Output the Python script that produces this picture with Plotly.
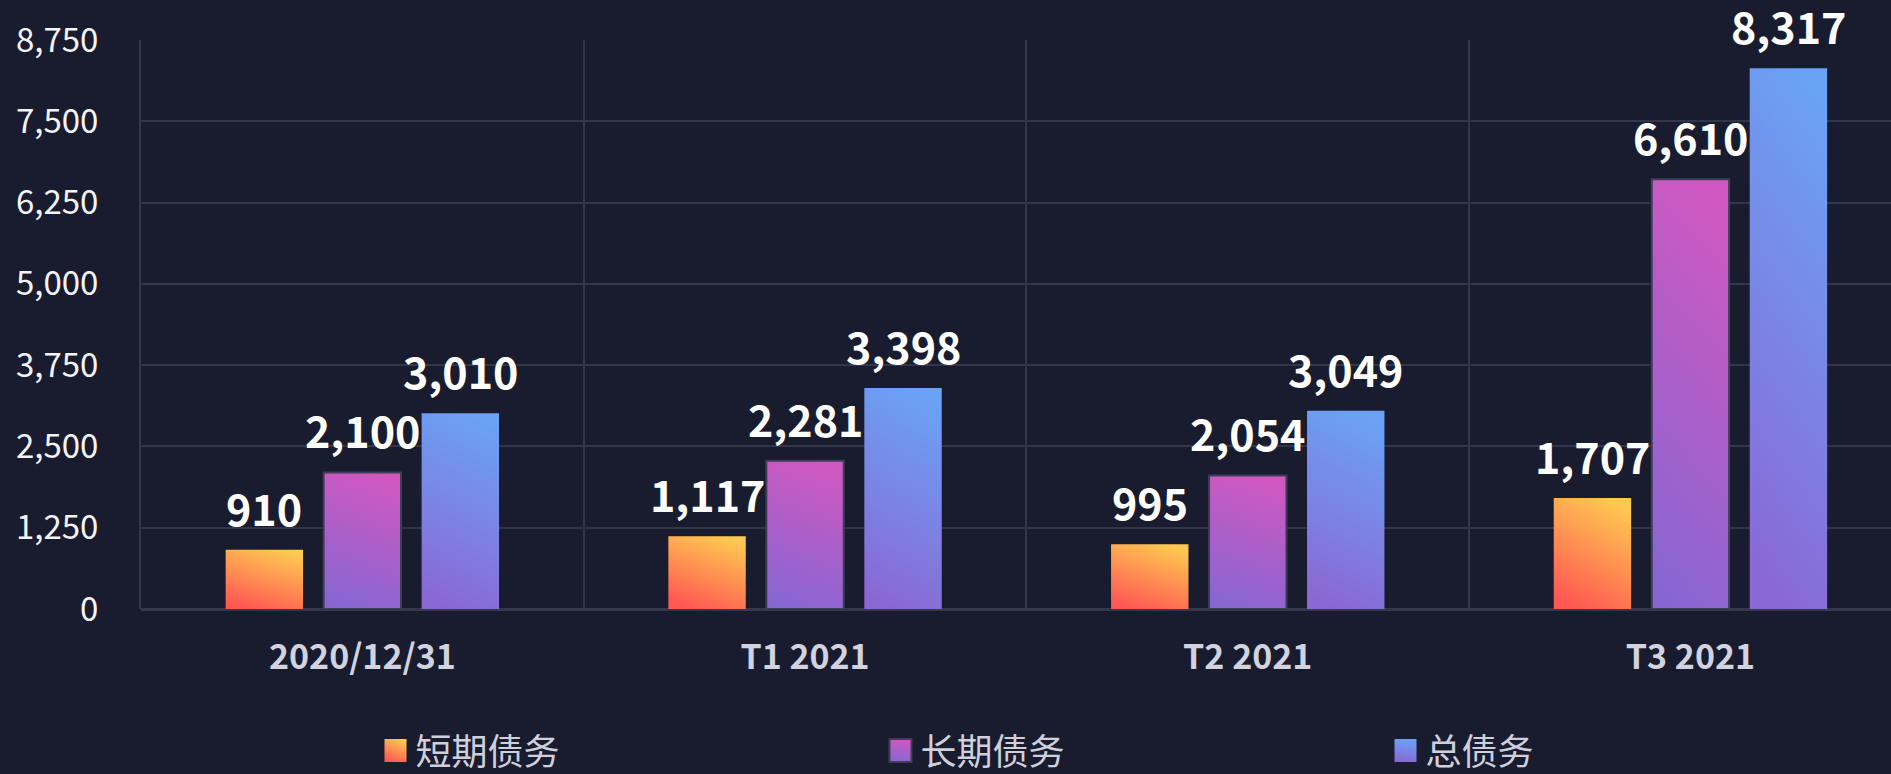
import json
import plotly.graph_objects as go

categories = ["2020/12/31", "T1 2021", "T2 2021", "T3 2021"]
short_term = [910, 1117, 995, 1707]
long_term = [2100, 2281, 2054, 6610]
total_debt = [3010, 3398, 3049, 8317]
series_names = ["短期债务", "长期债务", "总债务"]
y_ticks = [0, 1250, 2500, 3750, 5000, 6250, 7500, 8750]

series_values = [short_term, long_term, total_debt]
solid_colors = ["#ff9350", "#b05ccc", "#7a8ae6"]
# gradient: [x1, y1, x2, y2, bottom colour, top colour] in bar bounding-box units
gradients = [
    [0.3, 1, 0.7, 0, "#ff5852", "#ffc852"],
    [0.4, 1, 0.6, 0, "#8866d2", "#d058c0"],
    [0.4, 1, 0.6, 0, "#8a68d4", "#6aa2f5"],
]
line_styles = [dict(width=0), dict(width=2, color="#3c3f55"), dict(width=0)]

BG = "#191c2f"
GRID = "#33364a"
FONT = "Noto Sans CJK SC"

W, H = 1891, 774
ML, MR, MT, MB = 141, 0, 40, 165
cat_px = 442.7
x_max = -0.5 + (W - ML - MR) / cat_px
bargap = 0.336
bargroupgap = 0.21
slot_px = cat_px * (1 - bargap) / 3

fig = go.Figure()
for k, (name, vals) in enumerate(zip(series_names, series_values)):
    fig.add_trace(go.Bar(
        x=categories, y=vals, name=name,
        marker=dict(color=solid_colors[k], line=line_styles[k]),
    ))
    for i, cat in enumerate(categories):
        fig.add_annotation(
            x=cat, y=vals[i], text=f"{vals[i]:,}", showarrow=False,
            xanchor="center", yanchor="bottom",
            xshift=(k - 1) * slot_px, yshift=10,
            font=dict(family=FONT, size=43, color="#ffffff", weight=700),
        )

fig.update_layout(
    width=W, height=H,
    margin=dict(l=ML, r=MR, t=MT, b=MB, autoexpand=False),
    paper_bgcolor=BG, plot_bgcolor=BG,
    barmode="group", bargap=bargap, bargroupgap=bargroupgap,
    font=dict(family=FONT, color="#ffffff"),
    showlegend=True,
    legend=dict(
        orientation="h", x=0.134, y=-0.249, xanchor="left", yanchor="middle",
        font=dict(family=FONT, size=36, color="#cfd0dc"),
        entrywidth=460, bgcolor="rgba(0,0,0,0)",
    ),
    xaxis=dict(
        type="category", range=[-0.5, x_max],
        tickson="boundaries", showgrid=True, gridcolor=GRID, gridwidth=2,
        ticks="", showline=False, zeroline=False,
        tickfont=dict(family=FONT, size=34, color="#d2d3de", weight=700),
        ticklabelstandoff=25,
    ),
    yaxis=dict(
        range=[0, 8750], tickvals=y_ticks, tickformat=",",
        showgrid=True, gridcolor=GRID, gridwidth=2,
        zeroline=True, zerolinecolor="#35374b", zerolinewidth=3,
        showline=True, linecolor=GRID, linewidth=2,
        ticks="", ticklabelstandoff=34,
        tickfont=dict(family=FONT, size=33, color="#f4f4f8"),
    ),
)

post_js = """
document.body.style.margin = '0';
var gd = document.getElementById('{plot_id}');
var NS = 'http://www.w3.org/2000/svg';
var grads = GRADS;
var defs = gd.querySelector('svg.main-svg defs');
grads.forEach(function(g, k) {
  var lg = document.createElementNS(NS, 'linearGradient');
  lg.setAttribute('id', 'bargrad' + k);
  lg.setAttribute('x1', g[0]); lg.setAttribute('y1', g[1]);
  lg.setAttribute('x2', g[2]); lg.setAttribute('y2', g[3]);
  [[0, g[4]], [1, g[5]]].forEach(function(s) {
    var st = document.createElementNS(NS, 'stop');
    st.setAttribute('offset', s[0]);
    st.setAttribute('stop-color', s[1]);
    lg.appendChild(st);
  });
  defs.appendChild(lg);
});
gd.querySelectorAll('.barlayer .trace').forEach(function(tr, k) {
  tr.querySelectorAll('path').forEach(function(p) { p.style.fill = 'url(#bargrad' + k + ')'; });
});
gd.querySelectorAll('.legend .traces').forEach(function(tr, k) {
  tr.querySelectorAll('.legendpoints path').forEach(function(p) {
    p.style.fill = 'url(#bargrad' + k + ')';
    p.setAttribute('d', 'M11,11.5H-11V-11.5H11Z');
  });
});
""".replace("GRADS", json.dumps(gradients))

fig.write_html("out.html", post_script=post_js, config={"displayModeBar": False})
